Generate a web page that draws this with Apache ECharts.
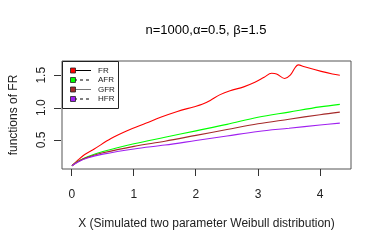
<!DOCTYPE html>
<html><head><meta charset="utf-8">
<script src="https://cdn.jsdelivr.net/npm/echarts@6/dist/echarts.min.js"></script>
<style>html,body{margin:0;padding:0;background:#fff}#c{width:382px;height:245px}</style>
</head><body><div id="c"></div>
<script>
const titleText = 'n=1000,\u03b1=0.5, \u03b2=1.5';
const xName = 'X (Simulated two parameter Weibull distribution)';
const yName = 'functions of FR';
const xTicks = [0, 1, 2, 3, 4];
const yTicks = [0.5, 1.0, 1.5];
const seriesNames = ['FR', 'AFR', 'GFR', 'HFR'];
const frX = [0, 0.1, 0.2, 0.36, 0.63, 0.89, 1.2, 1.43, 1.7, 1.96, 2.1, 2.23, 2.39, 2.55, 2.77, 2.95, 3.1, 3.22, 3.3, 3.43, 3.52, 3.6, 3.65, 3.75, 4.02, 4.2, 4.32];
const frY = [0.10, 0.19, 0.27, 0.36, 0.52, 0.64, 0.76, 0.85, 0.94, 1.01, 1.05, 1.11, 1.20, 1.26, 1.32, 1.39, 1.47, 1.53, 1.52, 1.45, 1.50, 1.62, 1.66, 1.63, 1.56, 1.52, 1.50];
const smoothX = [0, 0.1, 0.25, 0.5, 1, 1.5, 2, 2.5, 3, 3.5, 4, 4.32];
const afrY = [0.10, 0.17, 0.24, 0.32, 0.44, 0.54, 0.64, 0.74, 0.85, 0.93, 1.01, 1.05];
const gfrY = [0.10, 0.165, 0.23, 0.30, 0.40, 0.48, 0.57, 0.66, 0.75, 0.82, 0.89, 0.93];
const hfrY = [0.10, 0.16, 0.22, 0.28, 0.36, 0.42, 0.49, 0.56, 0.63, 0.68, 0.73, 0.76];
const colors = ['#ff0000', '#00ff00', '#a52a2a', '#a020f0'];
const legendLine = ['solid', 'dashed', 'solid', 'dashed'];
const legendLineColor = ['#000', '#000', '#777', '#000'];

const zip = (xs, ys) => xs.map((x, i) => [x, ys[i]]);
const dataSets = [zip(frX, frY), zip(smoothX, afrY), zip(smoothX, gfrY), zip(smoothX, hfrY)];
const FONT = 'Liberation Sans, Arial, sans-serif';
const X_MIN = -0.16, X_MAX = 4.5, Y_MIN = 0.05, Y_MAX = 1.72;
const GRID = {left: 61, right: 31, top: 61, bottom: 76};
const TICK_LEN = 7;

const chart = echarts.init(document.getElementById('c'), null, {renderer: 'canvas', width: 382, height: 245});
const W = 382, H = 245;
const gw = W - GRID.left - GRID.right, gh = H - GRID.top - GRID.bottom;
const xPix = v => GRID.left + (v - X_MIN) / (X_MAX - X_MIN) * gw;
const yPix = v => GRID.top + gh - (v - Y_MIN) / (Y_MAX - Y_MIN) * gh;

const graphics = [
  {type: 'text', x: 206, y: 30, style: {text: titleText, font: '13px ' + FONT, fill: '#000', textAlign: 'center', textVerticalAlign: 'middle'}},
  {type: 'rect', shape: {x: 62.5, y: 61.5, width: 56, height: 47}, style: {fill: '#fff', stroke: '#222', lineWidth: 1}, z: 10}
];
seriesNames.forEach((n, i) => {
  const cy = 70.5 + i * 9.5;
  graphics.push({type: 'line', shape: {x1: 74, y1: cy, x2: 91, y2: cy}, style: {stroke: legendLineColor[i], lineWidth: 1, lineDash: legendLine[i] === 'dashed' ? [3, 3] : null}, z: 11});
  graphics.push({type: 'rect', shape: {x: 70.5, y: cy - 2.5, width: 5, height: 5}, style: {fill: colors[i], stroke: '#222', lineWidth: 0.8}, z: 12});
  graphics.push({type: 'text', x: 98, y: cy, style: {text: n, font: '8px ' + FONT, fill: '#222', textVerticalAlign: 'middle'}, z: 12});
});
// axis ticks outside the box: filled thin rects at tick values mapped through the grid's linear scale
const boxBottom = GRID.top + gh, boxLeft = GRID.left;
xTicks.forEach(v => {
  const px = Math.round(xPix(v));
  graphics.push({type: 'rect', shape: {x: px, y: boxBottom, width: 1, height: TICK_LEN}, style: {fill: '#333'}, z: 20});
});
yTicks.forEach(v => {
  const py = Math.round(yPix(v));
  graphics.push({type: 'rect', shape: {x: boxLeft - TICK_LEN, y: py, width: TICK_LEN, height: 1}, style: {fill: '#333'}, z: 20});
});

chart.setOption({
  backgroundColor: '#fff',
  animation: false,
  grid: {left: GRID.left, right: GRID.right, top: GRID.top, bottom: GRID.bottom, show: true, borderColor: '#555', borderWidth: 1},
  xAxis: {
    type: 'value', min: X_MIN, max: X_MAX,
    name: xName, nameLocation: 'middle', nameGap: 49,
    nameTextStyle: {fontSize: 12, fontFamily: FONT, color: '#222'},
    axisLine: {show: false, onZero: false}, splitLine: {show: false},
    axisTick: {show: false},
    axisLabel: {customValues: xTicks, fontSize: 12, fontFamily: FONT, color: '#222', margin: 20}
  },
  yAxis: {
    type: 'value', min: Y_MIN, max: Y_MAX,
    name: yName, nameLocation: 'middle', nameGap: 42,
    nameTextStyle: {fontSize: 12, fontFamily: FONT, color: '#222'},
    axisLine: {show: false, onZero: false}, splitLine: {show: false},
    axisTick: {show: false},
    axisLabel: {customValues: yTicks, rotate: 90, fontSize: 12, fontFamily: FONT, color: '#222', margin: 14, formatter: v => v.toFixed(1)}
  },
  series: seriesNames.map((n, i) => ({
    name: n, type: 'line', data: dataSets[i], smooth: 0.35, showSymbol: false,
    lineStyle: {color: colors[i], width: 1.1}, z: 2
  })),
  graphic: graphics
});
</script></body></html>
